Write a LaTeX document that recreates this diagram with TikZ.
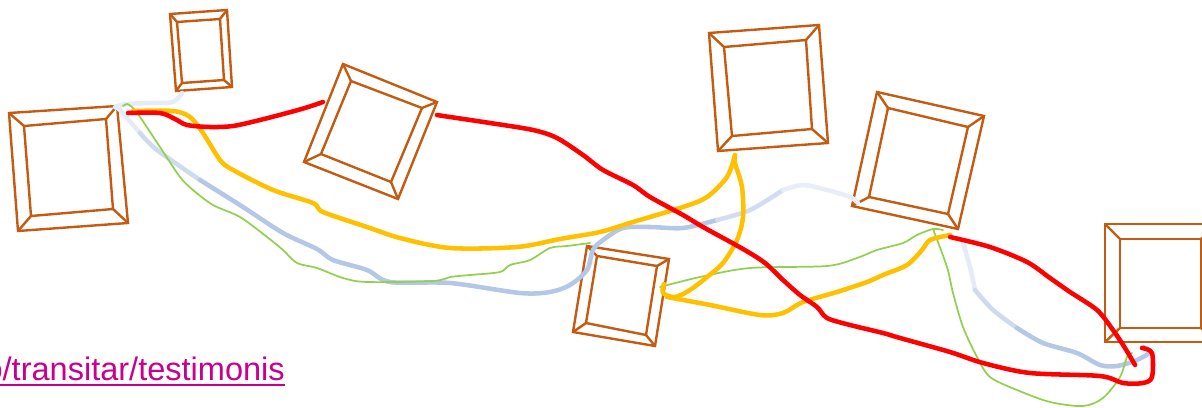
\documentclass[tikz,border=0pt]{standalone}
\usepackage{fontspec}
\setmainfont{Liberation Sans}
\usetikzlibrary{calc}
\definecolor{framebrown}{RGB}{197,90,17}
\definecolor{pathred}{RGB}{255,0,0}
\definecolor{pathamber}{RGB}{255,192,0}
\definecolor{pathblue}{RGB}{180,199,231}
\definecolor{pathgreen}{RGB}{146,208,80}
\definecolor{linkmagenta}{RGB}{200,0,140}
\tikzset{
  pframe/.style   ={draw=framebrown, line width=1.8pt},
  redpath/.style  ={draw=pathred, line width=3.4pt, line cap=round, line join=round},
  amberpath/.style={draw=pathamber, line width=3.4pt, line cap=round, line join=round},
  bluepath/.style ={line width=3.4pt, line cap=round, line join=round},
  greenpath/.style={draw=pathgreen, line width=1.3pt, line cap=round, line join=round},
  link/.style     ={font=\fontsize{24.4}{29}\selectfont, text=linkmagenta, inner sep=0pt}
}
\begin{document}
\begin{tikzpicture}[x=0.75pt, y=-0.75pt]
\useasboundingbox (0,0) rectangle (1202,407);
\clip (0,0) rectangle (1202,407);
% Frames: outer corners / inner corners
\foreach \oa/\ob/\oc/\od/\ia/\ib/\ic/\id in {
  {(9,113)}/{(117,106)}/{(128,223)}/{(18,231)}/{(24,126)}/{(106,119)}/{(113,209)}/{(31,216)},
  {(170,14)}/{(227,10)}/{(232,87)}/{(176,91)}/{(177,22)}/{(220,19)}/{(224,80)}/{(182,83)},
  {(343,64)}/{(437,102)}/{(398,199)}/{(304,162)}/{(351,81)}/{(422,108)}/{(391,182)}/{(321,154)},
  {(709,33)}/{(819,25)}/{(828,143)}/{(718,151)}/{(724,47)}/{(806,40)}/{(812,129)}/{(732,136)},
  {(877,92)}/{(984,116)}/{(958,229)}/{(852,206)}/{(888,108)}/{(968,127)}/{(948,214)}/{(869,197)},
  {(1105,224)}/{(1216,224)}/{(1216,342)}/{(1105,342)}/{(1120,239)}/{(1201,239)}/{(1201,328)}/{(1120,328)},
  {(587,246)}/{(669,259)}/{(655,346)}/{(573,332)}/{(597,256)}/{(657,266)}/{(646,335)}/{(586,323)}}{
  \draw[pframe] \oa -- \ob -- \oc -- \od -- cycle;
  \draw[pframe] \ia -- \ib -- \ic -- \id -- cycle;
  \draw[pframe] \oa -- \ia \ob -- \ib \oc -- \ic \od -- \id;
}
% Blue trails
\draw[bluepath, draw=pathblue!35] plot[smooth] coordinates {(182,93) (173,102) (150,103) (127,104) (115,107) (120,110) (140,133)};
\draw[bluepath, draw=pathblue!65] plot[smooth] coordinates {(140,133) (157,150) (200,180)};
\draw[bluepath, draw=pathblue] plot[smooth] coordinates {(200,180) (243,207) (283,233) (317,249) (333,260) (367,270) (390,282) (450,283) (520,293) (550,292) (570,285) (587,270) (593,250) (603,240) (623,228) (650,227) (683,228) (717,220)};
\draw[bluepath, draw=pathblue!60] plot[smooth] coordinates {(717,220) (750,210) (783,190)};
\draw[bluepath, draw=pathblue!30] plot[smooth] coordinates {(783,190) (803,185) (827,190) (850,197) (858,203)};
\draw[bluepath, draw=pathblue!35] plot[smooth] coordinates {(963,243) (970,267) (975,290)};
\draw[bluepath, draw=pathblue!65] plot[smooth] coordinates {(975,290) (993,310) (1017,328)};
\draw[bluepath, draw=pathblue] plot[smooth] coordinates {(1017,328) (1043,343) (1077,353) (1100,365) (1117,366) (1137,360) (1150,352) (1143,347)};
% Green trails
\draw[greenpath] plot[smooth] coordinates {(123,106) (127,104) (132,107) (140,117) (160,147) (180,177) (193,190) (213,205) (240,217) (267,237) (283,250) (297,263) (317,268) (343,278) (367,282) (433,281) (450,277) (470,275) (500,272) (510,265) (530,260) (550,248) (567,246) (590,243)};
\draw[greenpath] plot[smooth] coordinates {(660,287) (700,277) (750,268) (827,266) (857,258) (877,250) (903,243) (917,235) (933,229) (943,230)};
\draw[greenpath] plot[smooth] coordinates {(933,229) (947,267) (953,293) (963,327) (977,357) (990,377) (1017,390) (1050,402) (1083,406) (1103,398) (1120,377) (1127,357) (1132,353)};
% Amber trails
\draw[amberpath] plot[smooth] coordinates {(133,111) (173,111) (190,117) (203,133) (220,160) (233,170) (273,190) (313,203) (323,212) (367,227) (400,238) (450,248) (517,247) (560,239) (600,232) (633,222) (683,207) (707,197) (727,177) (735,155)};
\draw[amberpath] plot[smooth] coordinates {(735,155) (735,163) (742,187) (743,217) (737,240) (723,263) (707,277) (690,290) (675,297) (663,293) (664,284)};
\draw[amberpath] plot[smooth] coordinates {(667,297) (710,305) (760,315) (783,313) (803,302) (837,292) (867,282) (883,275) (907,265) (922,250) (930,240) (950,235)};
% Red trails
\draw[redpath] plot[smooth] coordinates {(128,113) (160,113) (175,119) (187,125) (210,127) (233,126) (260,120) (287,113) (305,108) (323,102)};
\draw[redpath] plot[smooth] coordinates {(437,115) (450,117) (490,123) (533,130) (557,138) (583,155) (603,170) (633,185) (650,197) (683,215) (703,227) (743,249) (765,263) (783,280) (800,295) (817,307) (827,318) (850,325) (883,333) (900,338) (950,352) (983,363) (1030,373) (1100,376) (1123,383) (1143,383) (1152,377) (1152,353) (1142,348)};
\draw[redpath] plot[smooth] coordinates {(950,237) (990,247) (1027,262) (1050,278) (1070,292) (1097,310) (1113,330) (1125,348) (1135,365)};
% Link
\node[link, anchor=base east] (url) at (285,380) {o/transitar/testimonis};
\draw[linkmagenta, line width=1.5pt] ($(url.base west)+(0,4.5)$) -- ($(url.base east)+(0,4.5)$);
\end{tikzpicture}
\end{document}
